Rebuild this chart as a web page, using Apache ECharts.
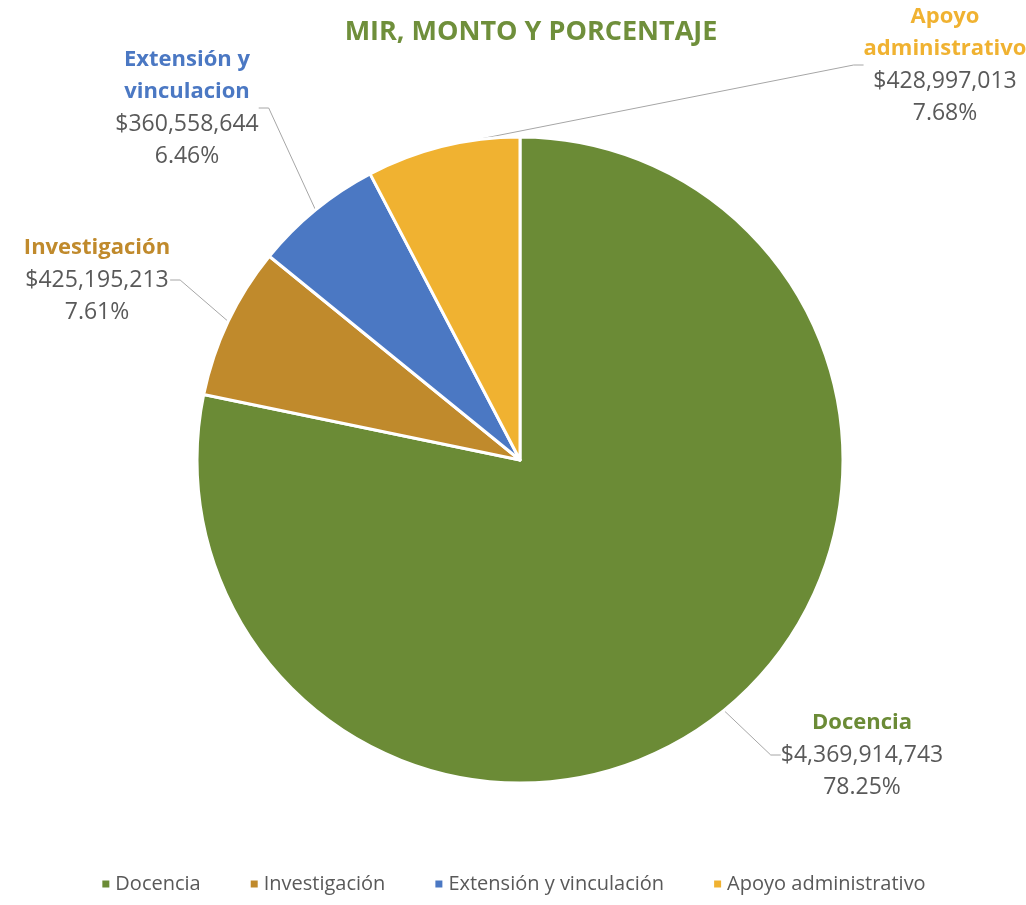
<!DOCTYPE html>
<html>
<head>
<meta charset="utf-8">
<script src="https://cdn.jsdelivr.net/npm/echarts@6/dist/echarts.min.js"></script>
<style>
  html, body { margin: 0; padding: 0; background: #fff; }
  #chart { width: 1026px; height: 905px; }
</style>
</head>
<body>
<div id="chart"></div>
<script>
const categories = ["Docencia", "Investigación", "Extensión y vinculación", "Apoyo administrativo"];
const labelNames = ["Docencia", "Investigación", "Extensión y\nvinculacion", "Apoyo\nadministrativo"];
const amounts = [4369914743, 425195213, 360558644, 428997013];
const percents = ["78.25%", "7.61%", "6.46%", "7.68%"];
const colors = ["#6b8b36", "#c08a2c", "#4b78c3", "#f0b231"];

// where each label block sits (centre of the text block)
const labelSpots = [[862, 755], [97, 280], [187, 108], [945, 65]];

const fmt = (n) => "$" + n.toLocaleString("en-US");

const nameStyle = (c) => ({
  fontFamily: "Open Sans", fontSize: 22, fontWeight: "bold", color: c, lineHeight: 32, align: "center",
});

const chartDom = document.getElementById("chart");
const myChart = echarts.init(chartDom);

myChart.setOption({
  color: colors,
  title: {
    text: "MIR, MONTO Y PORCENTAJE",
    left: 526,
    top: 14,
    textAlign: "center",
    textStyle: {
      fontFamily: "Open Sans",
      fontSize: 27,
      fontWeight: "bold",
      color: "#6f8f3b",
    },
  },
  legend: {
    bottom: 6,
    left: "center",
    itemWidth: 9,
    itemHeight: 9,
    itemGap: 48,
    icon: "rect",
    textStyle: {
      fontFamily: "Open Sans",
      fontSize: 20,
      color: "#595959",
    },
    data: categories,
  },
  series: [
    {
      type: "pie",
      center: [520, 460],
      radius: 323,
      startAngle: 90,
      clockwise: true,
      avoidLabelOverlap: false,
      itemStyle: { borderColor: "#fff", borderWidth: 3 },
      label: {
        show: true,
        position: "outside",
        align: "center",
        lineHeight: 32,
        formatter: (p) => {
          const i = p.dataIndex;
          const nameLines = labelNames[i].split("\n").map((s) => "{n" + i + "|" + s + "}").join("\n");
          return nameLines + "\n{v|" + fmt(amounts[i]) + "}\n{v|" + percents[i] + "}";
        },
        rich: {
          n0: nameStyle(colors[0]),
          n1: nameStyle(colors[1]),
          n2: nameStyle(colors[2]),
          n3: nameStyle(colors[3]),
          v: { fontFamily: "Open Sans", fontSize: 23, color: "#595959", lineHeight: 32, align: "center" },
        },
      },
      labelLine: {
        show: true,
        length: 20,
        length2: 10,
        lineStyle: { color: "#a6a6a6", width: 1 },
      },
      labelLayout: (params) => {
        const s = labelSpots[params.dataIndex];
        return {
          x: s[0],
          y: s[1],
          align: "center",
          verticalAlign: "middle",
        };
      },
      data: categories.map((name, i) => ({ name: name, value: amounts[i] })),
    },
  ],
});
</script>
</body>
</html>
